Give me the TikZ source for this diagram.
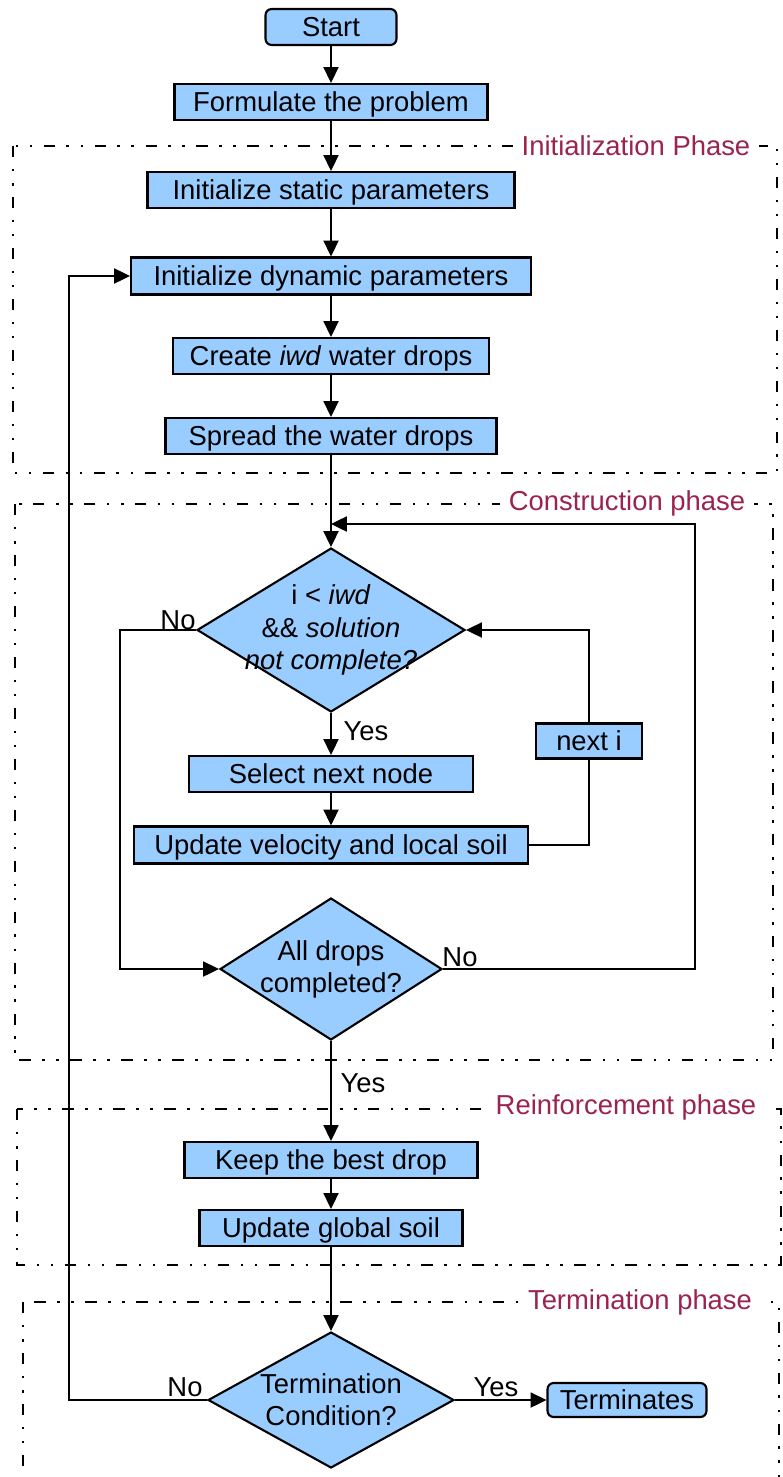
\documentclass[tikz,border=0pt]{standalone}
\usepackage{fontspec}
\setmainfont{Liberation Sans}
\usetikzlibrary{shapes.geometric,arrows.meta}
\definecolor{phasered}{RGB}{155,35,80}
\definecolor{boxblue}{RGB}{153,204,255}
\tikzstyle{process}=[draw=black,line width=1.2pt,fill=boxblue,minimum height=0.72cm,inner sep=0pt,text height=13pt,text depth=1.8pt]
\tikzstyle{terminal}=[process,rounded corners=3.5pt]
\tikzstyle{decision}=[diamond,draw=black,line width=1.2pt,fill=boxblue,inner sep=0pt]
\tikzstyle{flow}=[line width=1.2pt,-{Triangle[width=8.5pt,length=9pt]}]
\tikzstyle{link}=[line width=1.2pt]
\tikzstyle{phase}=[line width=1.5pt,dash pattern=on 6.5pt off 6.5pt on 1.5pt off 6.5pt on 1.5pt off 6.5pt]
\tikzstyle{phaselabel}=[fill=white,text=phasered,inner xsep=5pt]
\newcommand{\phasebox}[5]{% Syntax: {name} {corner} {corner} {label position} {label}
  \draw[phase] #2 rectangle #3;
  \node[phaselabel] (#1) at #4 {#5};
}

\begin{document}
\begin{tikzpicture}[x=0.02cm,y=-0.02cm,font=\fontsize{15.6}{18.3}\selectfont]
	\useasboundingbox (0,0) rectangle (782,1477);
	% phases
	\phasebox{initphase}{(13,146)}{(777,473)}{(636,146)}{Initialization Phase}
	\phasebox{constphase}{(15,504)}{(773,1060)}{(627,503)}{Construction phase}
	\phasebox{reinfphase}{(17,1109)}{(781,1265)}{(626,1107)}{Reinforcement phase}
	\phasebox{termphase}{(23,1302)}{(779,1500)}{(640,1302)}{Termination phase}

	\node[terminal,minimum width=2.62cm] (start) at (331,27) {Start};
	\node[process,minimum width=6.26cm] (formulate) at (331,102) {Formulate the problem};
	\node[process,minimum width=7.34cm] (static) at (331,190) {Initialize static parameters};
	\node[process,minimum width=8cm,minimum height=0.74cm] (dynamic) at (331,276) {Initialize dynamic parameters};
	\node[process,minimum width=6.32cm] (create) at (331,356) {Create \textit{iwd} water drops};
	\node[process,minimum width=6.62cm] (spread) at (331,436) {Spread the water drops};
	\coordinate (merge) at (331,524);
	\node[decision,minimum width=5.36cm,minimum height=3.28cm,
		label={[name=d1text,align=center]center:{i < \textit{iwd}\\\&\& \textit{solution}\\\textit{not complete?}}}] (d1) at (331,630) {};
	\node[process,minimum width=5.68cm] (select) at (331,774) {Select next node};
	\node[process,minimum width=7.88cm,minimum height=0.74cm] (update) at (331,845) {Update velocity and local soil};
	\node[process,minimum width=2.12cm,minimum height=0.7cm] (nexti) at (589,741) {next i};
	\node[decision,minimum width=4.44cm,minimum height=2.84cm,
		label={[name=d2text,align=center]center:{All drops\\completed?}}] (d2) at (331,969) {};
	\node[process,minimum width=5.86cm] (keep) at (331,1160) {Keep the best drop};
	\node[process,minimum width=5.26cm] (global) at (331,1228) {Update global soil};
	\node[decision,minimum width=4.92cm,minimum height=2.72cm,
		label={[name=d3text,align=center]center:{Termination\\Condition?}}] (d3) at (331,1400) {};
	\node[terminal,minimum width=3.18cm,minimum height=0.68cm] (term) at (627,1400) {Terminates};

	%answers
	\node (no1) at (178,620) {No};
	\node (yes1) at (366,731) {Yes};
	\node (no2) at (460,957) {No};
	\node (yes2) at (363,1083) {Yes};
	\node (no3) at (185,1387) {No};
	\node (yes3) at (496,1387) {Yes};

	\draw[flow] (start) -- (formulate);
	\draw[flow] (formulate) -- (static);
	\draw[flow] (static) -- (dynamic);
	\draw[flow] (dynamic) -- (create);
	\draw[flow] (create) -- (spread);
	\draw[flow] (spread) -- (d1);
	\draw[flow] (d1) -- (select);
	\draw[flow] (select) -- (update);
	\draw[link] (update.east) -| (nexti.south);
	\draw[flow] (nexti.north) |- (d1.east);
	\draw[flow] (d1.west) -- ++(-76,0) |- (d2.west);
	\draw[flow] (d2.east) -- ++(252,0) |- (merge);
	\draw[flow] (d2) -- (keep);
	\draw[flow] (keep) -- (global);
	\draw[flow] (global) -- (d3);
	\draw[flow] (d3.west) -- ++(-138,0) |- (dynamic.west);
	\draw[flow] (d3) -- (term);
\end{tikzpicture}
\end{document}
